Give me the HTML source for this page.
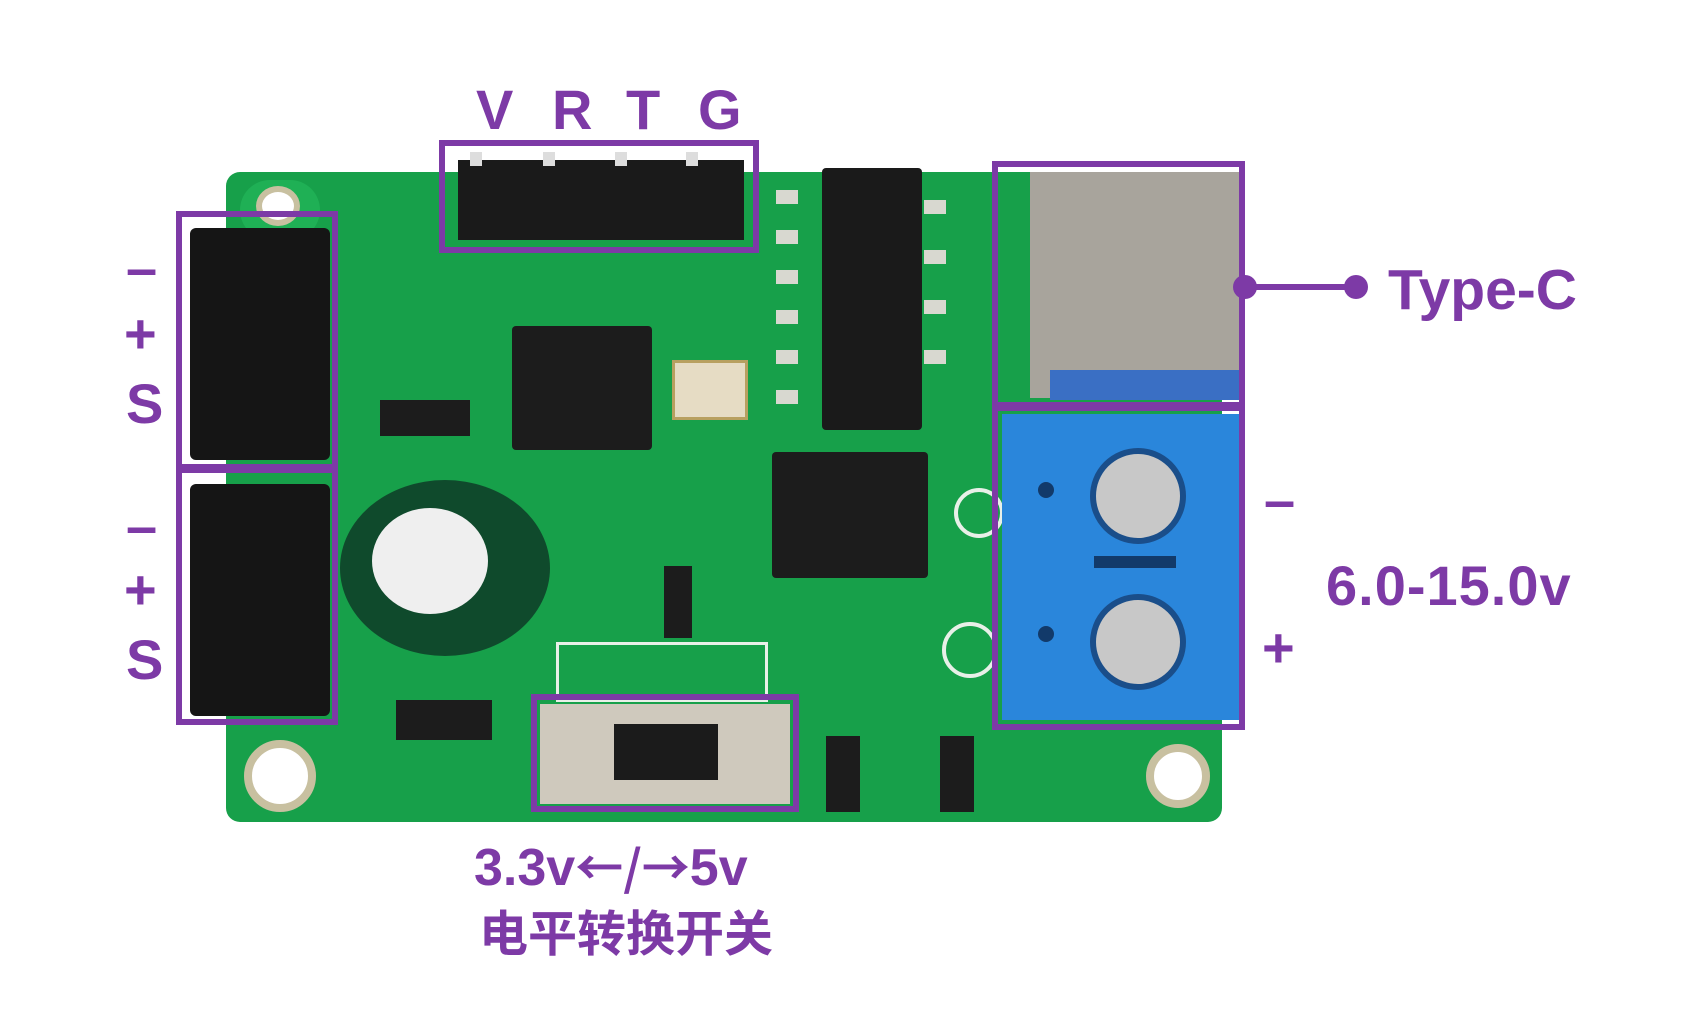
<!DOCTYPE html>
<html><head><meta charset="utf-8"><style>
*{margin:0;padding:0;box-sizing:border-box}
body{width:1686px;height:1024px;background:#fff;position:relative;overflow:hidden;font-family:"Liberation Sans","Noto Sans CJK SC",sans-serif}
.a{position:absolute}
.box{position:absolute;border:6px solid #7d3aa6}
.t{position:absolute;color:#7d3aa6;font-weight:bold;line-height:1;white-space:nowrap}
.w{position:absolute;background:#e8e8e0}
</style></head><body>
<!-- PCB -->
<div class="a" style="left:226px;top:172px;width:996px;height:650px;background:#17a04a;border-radius:14px"></div>
<div class="a" style="left:240px;top:180px;width:80px;height:60px;border-radius:40px;background:#1fb055"></div>
<div class="a" style="left:256px;top:186px;width:44px;height:40px;border-radius:50%;background:#fff;border:6px solid #c8c0a0"></div>
<div class="a" style="left:244px;top:740px;width:72px;height:72px;border-radius:50%;background:#fff;border:8px solid #c8c0a0"></div>
<div class="a" style="left:1146px;top:744px;width:64px;height:64px;border-radius:50%;background:#fff;border:8px solid #c8c0a0"></div>
<!-- silkscreen -->
<div class="a" style="left:776px;top:190px;width:22px;height:14px;background:#d8d8d0"></div>
<div class="a" style="left:776px;top:230px;width:22px;height:14px;background:#d8d8d0"></div>
<div class="a" style="left:776px;top:270px;width:22px;height:14px;background:#d8d8d0"></div>
<div class="a" style="left:776px;top:310px;width:22px;height:14px;background:#d8d8d0"></div>
<div class="a" style="left:776px;top:350px;width:22px;height:14px;background:#d8d8d0"></div>
<div class="a" style="left:776px;top:390px;width:22px;height:14px;background:#d8d8d0"></div>
<div class="a" style="left:924px;top:200px;width:22px;height:14px;background:#d8d8d0"></div>
<div class="a" style="left:924px;top:250px;width:22px;height:14px;background:#d8d8d0"></div>
<div class="a" style="left:924px;top:300px;width:22px;height:14px;background:#d8d8d0"></div>
<div class="a" style="left:924px;top:350px;width:22px;height:14px;background:#d8d8d0"></div>
<div class="a" style="left:954px;top:488px;width:50px;height:50px;border-radius:50%;border:4px solid #e8f0e8"></div>
<div class="a" style="left:942px;top:622px;width:56px;height:56px;border-radius:50%;border:4px solid #e8f0e8"></div>
<div class="a" style="left:556px;top:642px;width:212px;height:60px;border:3px solid #e8f0e8"></div>
<!-- left connectors -->
<div class="a" style="left:190px;top:228px;width:140px;height:232px;background:#151515;border-radius:6px"></div>
<div class="a" style="left:190px;top:484px;width:140px;height:232px;background:#151515;border-radius:6px"></div>
<!-- header pins -->
<div class="a" style="left:458px;top:160px;width:286px;height:80px;background:#1a1a1a"></div>
<div class="a" style="left:470px;top:152px;width:12px;height:14px;background:#ddd"></div>
<div class="a" style="left:543px;top:152px;width:12px;height:14px;background:#ddd"></div>
<div class="a" style="left:615px;top:152px;width:12px;height:14px;background:#ddd"></div>
<div class="a" style="left:686px;top:152px;width:12px;height:14px;background:#ddd"></div>
<!-- chips -->
<div class="a" style="left:822px;top:168px;width:100px;height:262px;background:#1a1a1a;border-radius:4px"></div>
<div class="a" style="left:512px;top:326px;width:140px;height:124px;background:#1c1c1c;border-radius:4px"></div>
<div class="a" style="left:672px;top:360px;width:76px;height:60px;background:#e6dcc4;border:3px solid #b8a060"></div>
<div class="a" style="left:772px;top:452px;width:156px;height:126px;background:#1c1c1c;border-radius:4px"></div>
<div class="a" style="left:380px;top:400px;width:90px;height:36px;background:#1c1c1c"></div>
<div class="a" style="left:396px;top:700px;width:96px;height:40px;background:#1c1c1c"></div>
<div class="a" style="left:664px;top:566px;width:28px;height:72px;background:#1c1c1c"></div>
<div class="a" style="left:826px;top:736px;width:34px;height:76px;background:#1c1c1c"></div>
<div class="a" style="left:940px;top:736px;width:34px;height:76px;background:#1c1c1c"></div>
<!-- capacitor -->
<div class="a" style="left:340px;top:480px;width:210px;height:176px;border-radius:50%;background:#0f4a2c"></div>
<div class="a" style="left:372px;top:508px;width:116px;height:106px;border-radius:50%;background:#efefef"></div>
<!-- switch -->
<div class="a" style="left:540px;top:704px;width:250px;height:100px;background:#cfc9bd"></div>
<div class="a" style="left:614px;top:724px;width:104px;height:56px;background:#1b1b1b"></div>
<!-- type c -->
<div class="a" style="left:1030px;top:172px;width:214px;height:226px;background:#a8a49c"></div>
<div class="a" style="left:1050px;top:370px;width:194px;height:30px;background:#3a6fc4"></div>
<!-- terminal -->
<div class="a" style="left:1002px;top:414px;width:238px;height:306px;background:#2a86db"></div>
<div class="a" style="left:1090px;top:448px;width:96px;height:96px;border-radius:50%;background:#c8c8c8;border:6px solid #1a4e8a"></div>
<div class="a" style="left:1090px;top:594px;width:96px;height:96px;border-radius:50%;background:#c8c8c8;border:6px solid #1a4e8a"></div>
<div class="a" style="left:1094px;top:556px;width:82px;height:12px;background:#123a6a"></div>
<div class="a" style="left:1038px;top:482px;width:16px;height:16px;border-radius:50%;background:#123a6a"></div>
<div class="a" style="left:1038px;top:626px;width:16px;height:16px;border-radius:50%;background:#123a6a"></div>

<!-- annotation boxes -->
<div class="box" style="left:439px;top:140px;width:320px;height:113px"></div>
<div class="box" style="left:176px;top:211px;width:162px;height:259px"></div>
<div class="box" style="left:176px;top:467px;width:162px;height:258px"></div>
<div class="box" style="left:992px;top:161px;width:253px;height:247px"></div>
<div class="box" style="left:992px;top:405px;width:253px;height:325px"></div>
<div class="box" style="left:531px;top:694px;width:268px;height:118px"></div>
<!-- connector -->
<div class="a" style="left:1245px;top:284px;width:112px;height:6px;background:#7d3aa6"></div>
<div class="a" style="left:1233px;top:275px;width:24px;height:24px;border-radius:50%;background:#7d3aa6"></div>
<div class="a" style="left:1344px;top:275px;width:24px;height:24px;border-radius:50%;background:#7d3aa6"></div>

<!-- labels -->
<div class="t" style="left:476px;top:82px;font-size:56px">V</div>
<div class="t" style="left:552px;top:82px;font-size:56px">R</div>
<div class="t" style="left:626px;top:82px;font-size:56px">T</div>
<div class="t" style="left:698px;top:82px;font-size:56px">G</div>

<div class="t" style="left:126px;top:240px;font-size:56px">–</div>
<div class="t" style="left:124px;top:306px;font-size:56px">+</div>
<div class="t" style="left:126px;top:376px;font-size:56px">S</div>
<div class="t" style="left:126px;top:498px;font-size:56px">–</div>
<div class="t" style="left:124px;top:562px;font-size:56px">+</div>
<div class="t" style="left:126px;top:632px;font-size:56px">S</div>

<div class="t" style="left:1388px;top:262px;font-size:57px">Type-C</div>
<div class="t" style="left:1264px;top:472px;font-size:56px">–</div>
<div class="t" style="left:1326px;top:558px;font-size:56px;letter-spacing:1px">6.0-15.0v</div>
<div class="t" style="left:1262px;top:620px;font-size:56px">+</div>

<div class="t" style="left:474px;top:840px;font-size:52px">3.3v<span style="font-family:'Noto Sans CJK SC',sans-serif;font-size:48px">←/→</span>5v</div>
<div class="t" style="left:479px;top:906px;font-size:49px;font-family:'Noto Sans CJK SC',sans-serif">电平转换开关</div>
</body></html>
